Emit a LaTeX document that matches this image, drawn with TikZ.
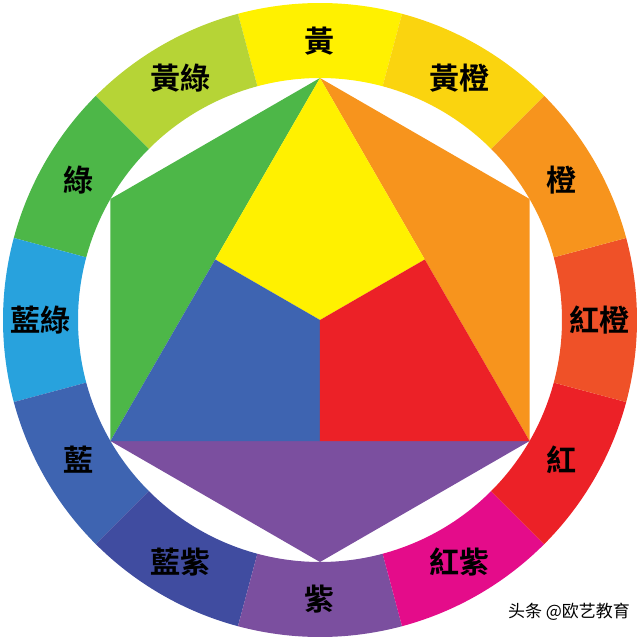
\documentclass[tikz,border=0pt]{standalone}
\usepackage{fontspec}
\newfontfamily\cjk{Noto Sans CJK TC}[BoldFont={Noto Sans CJK TC Bold}]
\newfontfamily\cjksc{Noto Sans CJK SC}
\usetikzlibrary{positioning}

\definecolor{ringY}{HTML}{FFF100}
\definecolor{ringYO}{HTML}{FAD40F}
\definecolor{ringO}{HTML}{F7941D}
\definecolor{ringRO}{HTML}{EF5128}
\definecolor{ringR}{HTML}{EC2127}
\definecolor{ringRV}{HTML}{E40C8A}
\definecolor{ringV}{HTML}{7B4F9F}
\definecolor{ringBV}{HTML}{404CA0}
\definecolor{ringB}{HTML}{3E64B1}
\definecolor{ringBG}{HTML}{28A2DD}
\definecolor{ringG}{HTML}{4DB748}
\definecolor{ringYG}{HTML}{B6D436}

\tikzset{
  hue/.style={font=\cjk\bfseries\fontsize{30}{30}\selectfont, text=black, inner sep=0pt}
}

\begin{document}
\begin{tikzpicture}[x=1pt,y=1pt]
  \useasboundingbox (-320,-320) rectangle (320,320);
  % outer ring, twelve hues
  \fill[ringY ] (75:317) arc (75:105:317) -- (105:242) arc (105:75:242) -- cycle;
  \fill[ringYG] (105:317) arc (105:135:317) -- (135:242) arc (135:105:242) -- cycle;
  \fill[ringG ] (135:317) arc (135:165:317) -- (165:242) arc (165:135:242) -- cycle;
  \fill[ringBG] (165:317) arc (165:195:317) -- (195:242) arc (195:165:242) -- cycle;
  \fill[ringB ] (195:317) arc (195:225:317) -- (225:242) arc (225:195:242) -- cycle;
  \fill[ringBV] (225:317) arc (225:255:317) -- (255:242) arc (255:225:242) -- cycle;
  \fill[ringV ] (255:317) arc (255:285:317) -- (285:242) arc (285:255:242) -- cycle;
  \fill[ringRV] (285:317) arc (285:315:317) -- (315:242) arc (315:285:242) -- cycle;
  \fill[ringR ] (315:317) arc (315:345:317) -- (345:242) arc (345:315:242) -- cycle;
  \fill[ringRO] (345:317) arc (345:375:317) -- (375:242) arc (375:345:242) -- cycle;
  \fill[ringO ] (15:317) arc (15:45:317) -- (45:242) arc (45:15:242) -- cycle;
  \fill[ringYO] (45:317) arc (45:75:317) -- (75:242) arc (75:45:242) -- cycle;

  \node[hue] (yellow)   at (90:279)  {黃};
  \node[hue] (yelgreen) at (120:279) {黃綠};
  \node[hue] (green)    at (150:279) {綠};
  \node[hue] (bluegreen)at (180:279) {藍綠};
  \node[hue] (blue)     at (210:279) {藍};
  \node[hue] (blueviol) at (240:279) {藍紫};
  \node[hue] (violet)   at (270:279) {紫};
  \node[hue] (redviol)  at (300:279) {紅紫};
  \node[hue] (red)      at (330:279) {紅};
  \node[hue] (redorange)at (0:279)   {紅橙};
  \node[hue] (orange)   at (30:279)  {橙};
  \node[hue] (yelorange)at (60:279)  {黃橙};

  % inner hexagon
  \coordinate (A)  at (90:242);
  \coordinate (B)  at (210:242);
  \coordinate (C)  at (330:242);
  \coordinate (AB) at (150:121);
  \coordinate (AC) at (30:121);
  \coordinate (BC) at (270:121);
  \coordinate (O)  at (0,0);
  \fill[ringG ] (A) -- (150:242) -- (B) -- cycle;
  \fill[ringO ] (A) -- (30:242) -- (C) -- cycle;
  \fill[ringV ] (B) -- (270:242) -- (C) -- cycle;
  \fill[ringY ] (A) -- (AB) -- (O) -- (AC) -- cycle;
  \fill[ringB ] (B) -- (AB) -- (O) -- (BC) -- cycle;
  \fill[ringR ] (C) -- (AC) -- (O) -- (BC) -- cycle;

  \node[font=\cjksc\fontsize{17}{17}\selectfont, inner sep=0pt] (mark) at (249,-292) {头条 @欧艺教育};
\end{tikzpicture}
\end{document}
